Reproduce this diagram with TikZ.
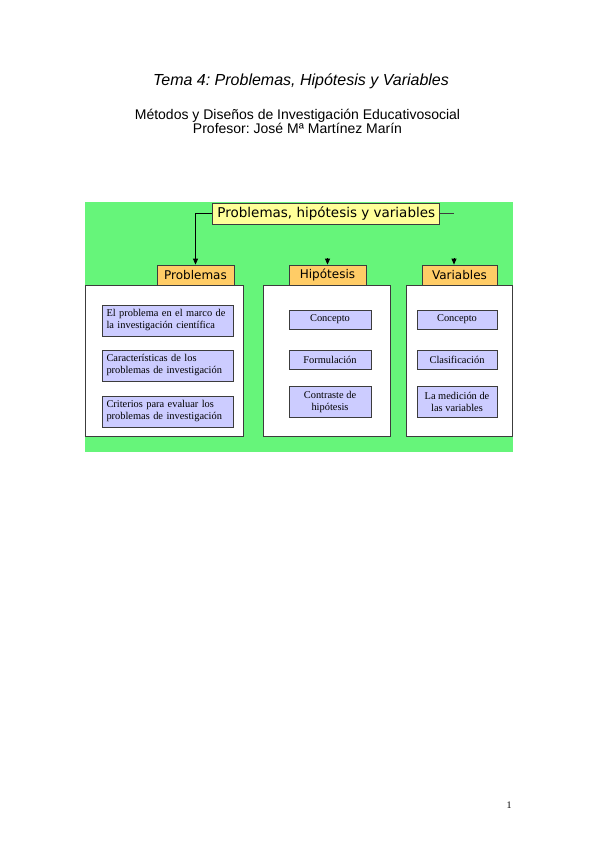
\documentclass[tikz,border=0pt]{standalone}
\usepackage{fontspec}
\setmainfont{Liberation Serif}
\newfontfamily\headfont{Liberation Sans}
\newfontfamily\mapfont{DejaVu Sans}
\usepackage{xcolor}
\usetikzlibrary{arrows.meta,positioning}
\definecolor{mapgreen}{RGB}{102,245,122}
\definecolor{rootyellow}{RGB}{255,255,153}
\definecolor{tagorange}{RGB}{255,204,102}
\definecolor{itemlilac}{RGB}{204,204,255}
\definecolor{edgegray}{RGB}{60,60,60}
\frenchspacing

\begin{document}
\begin{tikzpicture}[x=1pt, y=-1pt,
  box/.style={draw=edgegray, line width=0.8pt, inner sep=0pt, align=center},
  rootbox/.style={box, fill=rootyellow, minimum width=227pt, minimum height=21pt, font=\mapfont\fontsize{13.5}{15}\selectfont},
  tagbox/.style={box, fill=tagorange, minimum width=77pt, minimum height=20pt, font=\mapfont\fontsize{12}{14}\selectfont},
  panelbox/.style={box, fill=white, minimum height=151pt},
  itembox/.style={box, fill=itemlilac, font=\fontsize{10.4}{12}\selectfont},
  arrow/.style={-{Triangle[width=5pt,length=6pt]}, line width=0.8pt, draw=black},
  link/.style={line width=0.8pt, draw=edgegray}
]
  \useasboundingbox (0,0) rectangle (599,848);

  % Heading of the page
  \node[font=\headfont\itshape\fontsize{16}{18}\selectfont] (title) at (301,81) {Tema 4: Problemas, Hipótesis y Variables};
  \node[font=\headfont\fontsize{14}{13.5}\selectfont, align=center] (subtitle) at (297.5,121.5) {Métodos y Diseños de Investigación Educativosocial\\Profesor: José Mª Martínez Marín};

  % Green background of the map
  \fill[mapgreen] (85,202) rectangle (513,452);

  % Panels below each tag
  \node[panelbox, minimum width=158pt] (probPanel) at (164,360.5) {};
  \node[panelbox, minimum width=127pt] (hipPanel) at (326.5,360.5) {};
  \node[panelbox, minimum width=106pt] (varPanel) at (459,360.5) {};

  % Tags
  \node[tagbox] (prob) at (195.5,275) {Problemas};
  \node[tagbox] (hip) at (327.5,275) {Hipótesis};
  \node[tagbox, minimum width=75pt] (var) at (459.5,275) {Variables};

  % Root node
  \node[rootbox] (root) at (326.3,213.5) {Problemas, hipótesis y variables};

  % Items: Problemas
  \node[itembox, minimum width=131pt, minimum height=31pt, text width=122pt, align=left] (probA) at (167.5,320.5) {El problema en el marco de\\la investigación científica};
  \node[itembox, minimum width=131pt, minimum height=31pt, text width=122pt, align=left] (probB) at (167.5,365.5) {Características de los\\problemas de investigación};
  \node[itembox, minimum width=131pt, minimum height=31pt, text width=122pt, align=left] (probC) at (167.5,411.5) {Criterios para evaluar los\\problemas de investigación};

  % Items: Hipótesis
  \node[itembox, minimum width=82pt, minimum height=19pt] (hipA) at (330,319.5) {Concepto};
  \node[itembox, minimum width=82pt, minimum height=19pt] (hipB) at (330,359.5) {Formulación};
  \node[itembox, minimum width=82pt, minimum height=31pt] (hipC) at (330,401.5) {Contraste de\\hipótesis};

  % Items: Variables
  \node[itembox, minimum width=80pt, minimum height=19pt] (varA) at (457,319.5) {Concepto};
  \node[itembox, minimum width=80pt, minimum height=19pt] (varB) at (457,359.5) {Clasificación};
  \node[itembox, minimum width=80pt, minimum height=31pt] (varC) at (457,401.5) {La medición de\\las variables};

  % Connectors from the root
  \coordinate (rootEnd) at (454,213.5);
  \coordinate (hipStub) at (327.5,258);
  \coordinate (varStub) at (454,258);
  \draw[arrow] (root.west) -| (prob.north);
  \draw[link] (root.east) -- (rootEnd);
  \draw[arrow] (hipStub) -- (hip.north);
  \draw[arrow] (varStub) -- (varStub |- var.north);

  % Page number
  \node[font=\fontsize{10}{12}\selectfont] (pageNo) at (509,805) {1};
\end{tikzpicture}
\end{document}
